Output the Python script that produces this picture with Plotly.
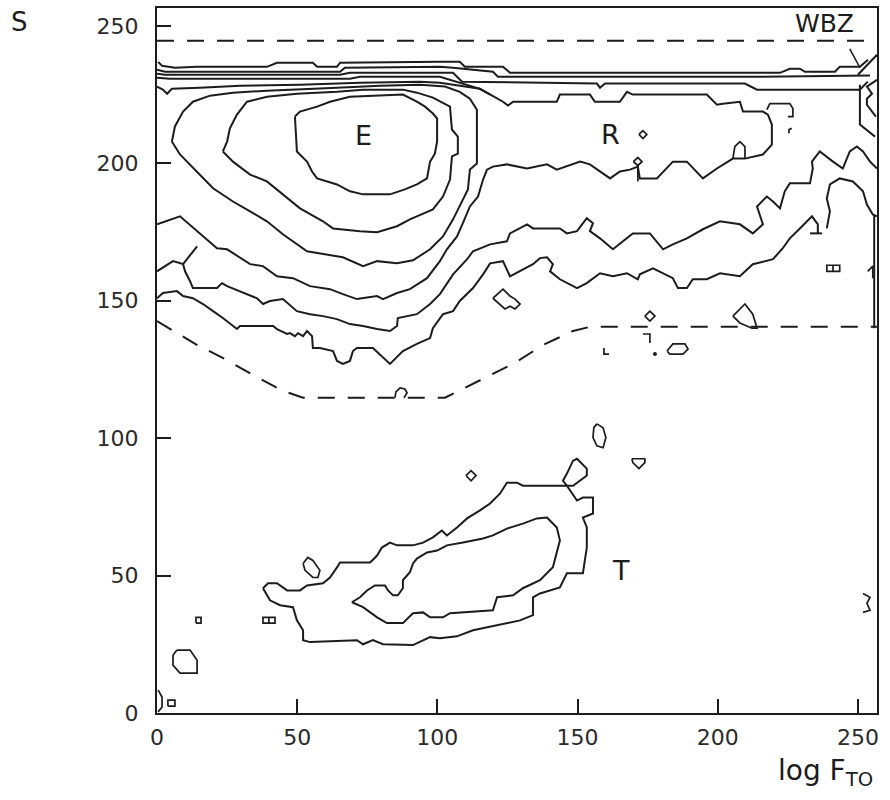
import plotly.graph_objects as go

INK = "#1c1c1c"

# ---------------- data (x = log F_TO grid units, s = S grid units) ----------------
# near-horizontal contour band at the top
band1_x = [0.4, 1.8, 6.4, 14.3, 39.2, 42.8, 55.6, 57.1, 64.2, 65.3, 100.9, 108.0, 109.8, 123.4, 125.9, 222.2, 225.7, 229.3, 231.1, 241.8, 243.5, 250.7, 253.6]
band1_s = [236.9, 235.5, 234.8, 235.1, 235.1, 236.6, 236.6, 235.1, 235.1, 236.6, 236.9, 236.9, 235.1, 235.1, 232.9, 232.9, 234.4, 234.4, 233.3, 233.3, 235.1, 235.1, 237.7]
band2_x = [0, 2.9, 65.3, 67.0, 100.9, 105.6, 119.8, 121.6, 215.0, 254.3]
band2_s = [234.0, 233.3, 233.3, 234.8, 235.1, 234.8, 233.3, 231.5, 231.5, 231.9]
band3_x = [0, 2.9, 65.3, 68.8, 100.9, 105.6, 108.8, 156.9, 158.0, 159.8, 209.7, 214.0, 250.7, 253.5]
band3_s = [232.6, 232.2, 232.2, 232.9, 232.9, 232.9, 229.7, 229.0, 227.5, 229.0, 229.0, 226.8, 226.8, 229.7]
band4_x = [0, 4.6, 68.8, 72.4, 100.9, 104.5, 115.2, 118.8]
band4_s = [231.1, 230.8, 230.8, 231.5, 231.5, 230.4, 227.1, 225.0]

# contour running along the top, round R and back under E
ridge_x = [0, 2.1, 3.6, 5.3, 15.3, 29.6, 51.0, 72.4, 93.8, 100.9, 115.2, 118.8, 123.4, 125.2, 127.0, 142.6, 143.7, 154.4, 156.2, 165.1,
           167.6, 169.7, 196.1, 199.7, 201.8, 207.9, 209.0, 216.1, 217.9, 219.3, 219.3, 216.1, 209.7, 205.4, 199.7, 194.7, 189.0, 184.0,
           178.3, 172.2, 171.5, 168.7, 165.1, 161.6, 154.4, 150.9, 142.6, 139.1, 132.0, 124.8, 119.8, 117.7, 116.3, 114.5, 111.6, 109.1,
           107.0, 103.4, 100.9, 96.3, 90.2, 85.6, 80.6, 78.5, 71.3, 66.3, 61.7, 54.6, 48.5, 42.8, 37.8, 33.2, 25.0, 21.4, 8.2, 0]
ridge_s = [227.9, 226.8, 225.3, 227.1, 227.5, 228.2, 228.6, 229.3, 229.7, 229.3, 227.1, 225.0, 222.4, 221.0, 222.4, 222.4, 225.0, 225.0,
           222.4, 222.4, 226.0, 225.0, 225.0, 221.3, 221.7, 222.4, 218.8, 218.8, 217.7, 214.1, 206.8, 203.2, 201.7, 201.7, 198.1, 194.5,
           200.6, 200.6, 194.5, 194.5, 198.8, 197.7, 197.0, 194.5, 199.6, 200.6, 197.7, 199.6, 198.1, 199.6, 198.8, 197.7, 194.1, 187.9,
           184.3, 178.2, 173.4, 168.7, 164.4, 158.2, 154.2, 152.8, 150.6, 151.7, 150.6, 152.4, 154.2, 155.3, 158.2, 158.9, 162.6, 163.3,
           168.7, 169.1, 180.7, 177.8]

# closed rings around E
ring1_x = [49.2, 49.9, 53.5, 55.3, 57.1, 64.2, 68.8, 73.5, 83.1, 88.4, 92.7, 96.3, 97.4, 99.1, 99.9, 99.9, 98.4, 95.6, 92.7, 87.7, 68.8, 61.7, 57.1, 51.0, 49.2]
ring1_s = [217.0, 204.3, 200.6, 197.0, 194.5, 192.3, 189.8, 188.7, 188.7, 190.5, 192.3, 194.5, 200.6, 203.5, 207.9, 216.3, 218.1, 220.6, 222.4, 225.0, 224.2, 222.4, 220.6, 218.8, 217.0]
ring2_x = [23.5, 25.0, 26.0, 28.5, 32.1, 39.2, 49.9, 64.2, 73.5, 87.7, 92.7, 98.4, 104.5, 105.2, 107.3, 107.3, 105.2, 104.5, 102.0, 98.4,
           90.2, 85.6, 78.5, 72.4, 62.8, 59.2, 51.0, 44.9, 39.2, 33.2, 27.1, 23.5]
ring2_s = [204.3, 207.9, 212.7, 217.7, 222.4, 224.2, 225.3, 226.0, 226.8, 226.8, 225.7, 223.9, 220.6, 212.3, 209.7, 203.5, 202.5, 194.1,
           187.9, 183.2, 179.6, 177.1, 174.9, 175.3, 176.3, 178.9, 183.6, 188.7, 193.4, 195.9, 200.6, 204.3]
ring3_x = [5.3, 6.4, 9.3, 12.8, 18.9, 27.1, 39.2, 49.9, 64.2, 79.5, 93.8, 102.7, 108.0, 111.6, 114.1, 114.1, 111.6, 110.9, 108.0, 105.6,
           102.0, 97.4, 91.3, 85.6, 78.5, 73.5, 66.3, 59.2, 53.5, 44.9, 39.2, 33.2, 27.1, 20.0, 15.3, 10.7, 8.2, 5.3]
ring3_s = [207.9, 213.4, 218.8, 222.4, 224.6, 225.7, 226.4, 226.8, 227.5, 228.2, 228.6, 227.9, 226.0, 223.5, 219.5, 199.9, 197.7, 190.5,
           184.3, 179.6, 173.4, 168.7, 164.7, 163.6, 164.4, 162.6, 165.8, 166.9, 168.0, 174.2, 178.9, 182.5, 186.1, 190.9, 195.9, 200.6,
           203.2, 207.9]

# long contours crossing the map
mid1_x = [0, 5.7, 9.3, 10.0, 11.8, 12.8, 21.4, 23.2, 25.0, 29.6, 35.7, 37.8, 40.3, 44.9, 49.9, 54.6, 59.2, 64.2, 68.8, 73.5, 78.5, 83.1,
          85.6, 85.9, 92.7, 97.4, 100.9, 105.6, 110.6, 112.7, 118.8, 124.8, 125.9, 132.0, 134.1, 143.7, 146.2, 149.8, 153.3, 155.5, 154.4,
          158.0, 162.6, 169.7, 175.8, 180.5, 184.0, 189.0, 194.7, 200.8, 207.9, 212.5, 216.1, 214.0, 217.5, 219.7, 222.2, 223.9, 225.7,
          232.9, 233.9, 233.6, 236.4, 241.1, 244.6, 247.1, 249.6, 251.8, 254.3, 256.8]
mid1_s = [160.7, 164.4, 163.3, 160.7, 157.1, 154.6, 154.6, 156.4, 155.3, 153.5, 150.9, 148.8, 149.9, 150.6, 146.2, 145.1, 144.4, 143.3,
          141.5, 140.8, 139.7, 139.0, 140.8, 143.7, 145.1, 148.8, 152.4, 159.6, 165.1, 168.0, 170.5, 171.6, 174.5, 177.8, 176.3, 176.3,
          174.5, 175.3, 180.0, 178.2, 175.3, 172.7, 168.7, 174.5, 174.5, 168.7, 170.5, 172.7, 176.0, 178.9, 177.8, 174.5, 177.8, 184.3,
          187.9, 186.1, 183.6, 189.8, 192.7, 192.7, 198.1, 200.6, 204.3, 200.6, 198.1, 204.3, 206.1, 204.3, 200.6, 198.1]
spur_x = [9.3, 14.3]
spur_s = [163.3, 169.8]

mid2_x = [0, 2.1, 7.1, 9.3, 12.8, 16.4, 20.0, 23.5, 28.5, 29.6, 41.4, 42.8, 46.4, 47.4, 49.2, 50.3, 52.1, 53.5, 55.3, 55.6, 58.1, 62.8,
          64.2, 66.3, 68.8, 69.9, 71.3, 77.0, 83.1, 87.7, 92.7, 97.4, 98.4, 102.0, 105.6, 108.0, 112.7, 116.3, 118.8, 123.4, 125.9, 129.5,
          134.1, 136.6, 139.1, 141.2, 140.2, 143.7, 149.8, 153.3, 158.0, 162.6, 167.6, 171.5, 172.2, 176.9, 184.0, 185.8, 189.0, 191.1,
          196.1, 200.8, 207.9, 212.5, 219.7, 223.2, 225.7, 229.3, 233.6, 235.7, 235.7]
mid2_s = [150.9, 152.8, 153.5, 151.7, 150.9, 148.8, 146.2, 143.7, 139.7, 140.8, 140.8, 139.7, 137.9, 138.2, 137.1, 138.2, 137.1, 139.0,
          137.1, 132.8, 132.8, 131.7, 128.1, 127.0, 128.1, 131.7, 132.8, 132.8, 127.0, 131.7, 134.3, 136.4, 140.0, 145.1, 146.2, 149.9,
          154.6, 159.6, 163.6, 164.4, 158.9, 160.7, 163.3, 165.5, 165.8, 163.3, 160.7, 157.8, 154.6, 156.4, 160.0, 158.9, 160.0, 157.8,
          159.6, 161.8, 158.2, 154.6, 154.6, 157.8, 157.8, 160.0, 158.9, 163.3, 165.1, 169.1, 172.7, 176.3, 180.7, 177.8, 174.5]
mid2_end_x = [232.9, 237.2]
mid2_end_s = [174.5, 174.5]
edge1_x = [238.9, 240.0, 238.9, 240.0, 243.5, 248.2, 251.8, 253.2, 255.3, 256.8]
edge1_s = [176.3, 182.5, 187.2, 192.3, 194.5, 193.4, 189.8, 185.0, 181.4, 180.7]
edge2_x = [255.8, 255.8]
edge2_s = [181.0, 140.0]

# WBZ corner
wbz1_x = [250.0, 253.2, 256.8]
wbz1_s = [232.2, 235.8, 239.5]
wbz2_x = [250.7, 250.7, 256.1]
wbz2_s = [228.6, 214.1, 209.7]
wbz3_x = [256.8, 253.2, 255.0, 253.2, 253.2, 256.4]
wbz3_s = [230.4, 227.9, 225.3, 223.5, 221.3, 217.0]
wbz_lead_x = [247.1, 250.7]
wbz_lead_s = [241.6, 234.8]

# dashed region boundaries
dash_top_x = [0, 256.8]
dash_top_s = [244.6, 244.6]
dash_low_x = [0, 13.6, 24.2, 34.9, 44.9, 52.1, 102.7, 117.0, 127.7, 137.7, 148.4, 154.4, 256.8]
dash_low_s = [142.6, 134.3, 128.8, 122.6, 117.2, 114.7, 114.7, 121.9, 127.4, 133.9, 139.0, 140.5, 140.5]

# T region
t_outer_x = [37.8, 39.6, 42.8, 46.4, 51.0, 53.5, 59.2, 61.7, 64.2, 65.3, 76.0, 78.5, 80.2, 83.1, 85.6, 91.3, 94.9, 98.4, 101.6, 103.4,
             107.0, 110.6, 115.2, 118.8, 122.3, 124.8, 128.4, 130.5, 146.2, 149.8, 151.9, 155.5, 155.5, 151.9, 153.3, 153.3, 151.9, 146.2,
             143.7, 136.6, 134.1, 134.1, 129.5, 124.8, 118.8, 112.7, 107.0, 100.9, 97.4, 91.3, 80.6, 77.0, 73.5, 71.3, 54.6, 52.1, 52.1,
             49.9, 48.5, 43.9, 40.3, 37.8]
t_outer_s = [45.4, 47.2, 47.2, 44.6, 44.6, 46.4, 47.2, 49.3, 53.0, 54.8, 54.8, 57.3, 60.2, 62.0, 61.0, 61.0, 62.0, 63.9, 66.4, 64.6, 67.5,
             70.8, 73.7, 76.2, 79.8, 83.8, 83.8, 82.7, 82.7, 77.3, 78.4, 78.4, 72.6, 71.1, 67.5, 60.2, 50.8, 50.8, 45.7, 43.5, 42.1, 35.6,
             33.7, 32.7, 31.2, 30.1, 27.9, 27.2, 27.6, 24.7, 25.0, 26.5, 25.0, 26.5, 25.8, 26.5, 30.1, 33.7, 38.5, 39.2, 41.0, 45.4]
t_loop_x = [146.2, 144.8, 146.2, 148.4, 149.8, 153.3, 153.3, 148.4, 146.2]
t_loop_s = [82.7, 84.5, 87.1, 91.8, 92.5, 88.9, 86.4, 82.7, 82.7]
t_inner_x = [69.5, 72.4, 74.9, 77.7, 81.3, 82.4, 84.2, 85.9, 87.7, 87.7, 90.2, 91.3, 92.7, 96.3, 99.9, 103.4, 109.1, 116.3, 119.8, 124.8,
             130.5, 135.5, 139.1, 142.6, 143.7, 142.6, 141.2, 136.6, 130.5, 127.0, 121.3, 119.8, 104.5, 102.0, 97.4, 94.9, 91.3, 87.7,
             82.0, 78.5, 73.5, 69.5]
t_inner_s = [40.3, 42.1, 44.6, 46.4, 46.4, 44.6, 42.8, 42.8, 45.4, 48.3, 51.2, 54.4, 56.2, 58.4, 59.1, 61.0, 62.0, 63.5, 64.6, 67.1,
             68.9, 70.8, 71.1, 67.5, 62.8, 58.1, 53.0, 48.3, 45.4, 42.8, 42.1, 37.4, 36.3, 34.8, 34.8, 36.6, 36.3, 32.7, 32.7, 34.8, 38.5,
             40.3]

# small isolated islands (closed outlines)
islands = {
    "a": ([119.8, 123.4, 125.9, 127.7, 129.5, 127.7, 125.9, 124.1, 119.8], [150.9, 154.2, 151.7, 150.6, 148.8, 147.0, 148.0, 147.0, 150.9]),
    "b": ([174.0, 175.8, 177.6, 175.8, 174.0], [144.4, 146.2, 144.4, 142.6, 144.4]),
    "c": ([205.4, 209.7, 212.5, 214.0, 212.2, 207.9, 205.4], [144.4, 148.8, 145.1, 140.0, 140.0, 141.9, 144.4]),
    "d": ([181.9, 184.0, 188.3, 189.4, 187.6, 182.9, 181.9], [131.7, 134.3, 134.3, 132.4, 130.6, 130.6, 131.7]),
    "e": ([238.9, 243.5, 243.5, 238.9, 238.9, 241.1, 241.1], [160.7, 160.7, 162.9, 162.9, 160.7, 160.7, 162.9]),
    "f": ([205.4, 206.1, 207.9, 209.7, 209.7], [201.7, 206.1, 207.9, 206.1, 201.7]),
    "g": ([171.9, 173.3, 174.7, 173.3, 171.9], [210.5, 211.9, 210.5, 209.0, 210.5]),
    "h": ([169.9, 171.5, 173.0, 171.5, 169.9], [200.6, 202.1, 200.6, 199.2, 200.6]),
    "i": ([217.5, 218.6, 225.7, 226.8, 226.8, 225.0], [219.5, 221.7, 221.7, 219.9, 217.0, 217.0]),
    "j": ([52.1, 53.8, 55.6, 58.1, 57.4, 55.6, 52.8, 52.1], [54.4, 56.6, 55.5, 51.9, 49.3, 49.3, 51.9, 54.4]),
    "k": ([110.2, 112.0, 113.8, 112.0, 110.2], [86.4, 88.2, 86.4, 84.5, 86.4]),
    "l": ([37.8, 42.1, 42.1, 37.8, 37.8, 39.9, 39.9], [32.7, 32.7, 34.8, 34.8, 32.7, 32.7, 34.8]),
    "m": ([13.9, 15.7, 15.7, 13.9, 13.9], [32.7, 32.7, 34.8, 34.8, 32.7]),
    "n": ([7.1, 11.8, 14.3, 14.3, 8.2, 5.7, 5.7, 7.1], [22.9, 22.9, 19.2, 14.5, 14.5, 17.4, 21.0, 22.9]),
    "o": ([3.9, 6.4, 6.4, 3.9, 3.9], [2.5, 2.5, 4.7, 4.7, 2.5]),
    "p": ([156.9, 159.1, 160.1, 159.1, 156.9, 155.5, 155.8, 156.9], [105.2, 103.8, 100.2, 96.5, 97.2, 100.2, 103.8, 105.2]),
    "q": ([169.4, 174.0, 174.0, 171.9, 169.7, 169.4], [92.5, 92.5, 91.1, 88.9, 91.1, 92.5]),
    "r": ([84.9, 85.2, 86.7, 88.4, 89.2, 88.1], [114.7, 116.8, 118.3, 117.9, 116.5, 114.7]),
}
# short open fragments
fragments = {
    "stem": ([171.5, 171.5], [199.2, 193.4]),
    "tmark": ([173.3, 175.8, 175.8], [137.9, 137.9, 134.6]),
    "lmark": ([159.4, 159.4, 161.2], [132.8, 130.6, 130.6]),
    "rmark": ([225.4, 225.4, 226.4], [210.9, 212.3, 212.7]),
    "corner": ([0.4, 1.8, 1.8, 0.4], [8.3, 5.8, 2.2, 0.4]),
    "edgeT": ([251.8, 254.3, 253.2, 254.3, 251.8], [43.5, 42.1, 39.9, 37.4, 36.6]),
    "edgeV": ([253.5, 255.3, 255.3], [160.7, 162.6, 158.2]),
}
dot_x = [177.6]
dot_s = [130.6]

# region labels
label_text = ["E", "R", "T", "WBZ"]
label_x = [73.5, 161.6, 165.5, 237.9]
label_s = [210.1, 210.5, 51.9, 250.7]

x_ticks = [0, 50, 100, 150, 200, 250]
s_ticks = [0, 50, 100, 150, 200, 250]

# ---------------- figure ----------------
fig = go.Figure()


def add_line(xs, ss, width=2.0, dash=None):
    fig.add_trace(go.Scatter(x=xs, y=ss, mode="lines",
                             line=dict(color=INK, width=width, dash=dash),
                             hoverinfo="skip", showlegend=False))


solid = [
    (band1_x, band1_s), (band2_x, band2_s), (band3_x, band3_s), (band4_x, band4_s),
    (ridge_x, ridge_s), (ring1_x, ring1_s), (ring2_x, ring2_s), (ring3_x, ring3_s),
    (mid1_x, mid1_s), (spur_x, spur_s), (mid2_x, mid2_s), (mid2_end_x, mid2_end_s),
    (edge1_x, edge1_s), (edge2_x, edge2_s),
    (wbz1_x, wbz1_s), (wbz2_x, wbz2_s), (wbz3_x, wbz3_s),
    (t_outer_x, t_outer_s), (t_loop_x, t_loop_s), (t_inner_x, t_inner_s),
]
for xs, ss in solid:
    add_line(xs, ss)
for xs, ss in islands.values():
    add_line(xs, ss, width=1.7)
for xs, ss in fragments.values():
    add_line(xs, ss, width=1.7)
add_line(wbz_lead_x, wbz_lead_s, width=1.5)

add_line(dash_top_x, dash_top_s, width=2.0, dash="17px,13px")
add_line(dash_low_x, dash_low_s, width=2.0, dash="17px,13px")

fig.add_trace(go.Scatter(x=dot_x, y=dot_s, mode="markers",
                         marker=dict(color=INK, size=4), hoverinfo="skip", showlegend=False))

for t, x, s in zip(label_text, label_x, label_s):
    fig.add_annotation(x=x, y=s, text=t, showarrow=False,
                       font=dict(family="DejaVu Sans", size=27 if t != "WBZ" else 25, color=INK),
                       xanchor="center", yanchor="middle")

axis_common = dict(
    showgrid=False, zeroline=False,
    showline=True, linecolor=INK, linewidth=2, mirror=True,
    ticks="inside", ticklen=14, tickwidth=2, tickcolor=INK,
    tickfont=dict(family="DejaVu Sans", size=22, color="#2a2a2a"),
)
fig.update_xaxes(range=[0, 256.8], tickvals=x_ticks, ticktext=[str(v) for v in x_ticks],
                 ticklabelstandoff=4, **axis_common)
fig.update_yaxes(range=[0, 256.5], tickvals=s_ticks, ticktext=[str(v) for v in s_ticks],
                 ticklabelstandoff=12, **axis_common)

fig.add_annotation(xref="paper", yref="paper", x=-0.191, y=0.980, text="S", showarrow=False,
                   font=dict(family="DejaVu Sans", size=26, color=INK), xanchor="center", yanchor="middle")
fig.add_annotation(xref="paper", yref="paper", x=0.997, y=-0.085, text="log F<sub>TO</sub>", showarrow=False,
                   font=dict(family="DejaVu Sans", size=28, color=INK), xanchor="right", yanchor="middle")

fig.update_layout(
    width=890, height=800,
    margin=dict(l=157, r=13, t=6, b=87),
    paper_bgcolor="white", plot_bgcolor="white",
    showlegend=False,
)

fig.write_html("out.html")
